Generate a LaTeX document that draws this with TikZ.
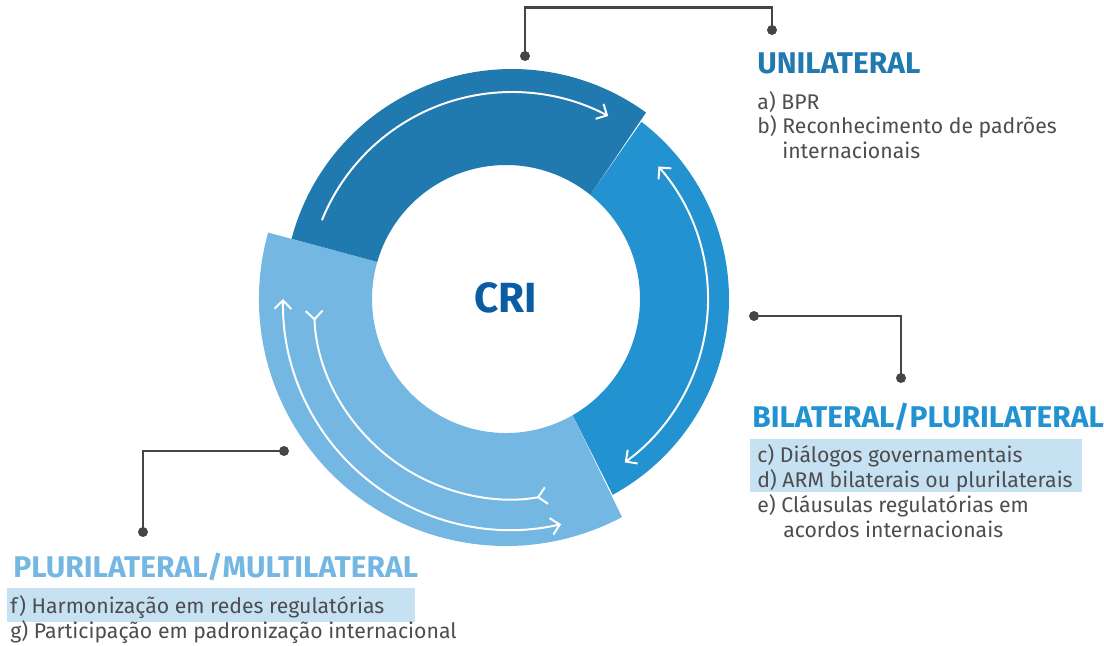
\documentclass[tikz,border=0pt]{standalone}
\usepackage{fontspec}
\setmainfont{Fira Sans}
\usetikzlibrary{arrows.meta}
\definecolor{ringdark}{HTML}{2079AF}
\definecolor{ringmid}{HTML}{2392D0}
\definecolor{ringlight}{HTML}{75B7E3}
\definecolor{txtgray}{HTML}{4D4D4F}
\definecolor{leadgray}{HTML}{444548}
\definecolor{crititle}{HTML}{0B5DA3}
\definecolor{hilite}{HTML}{C6E2F2}
\tikzset{
  flowtip/.tip={Straight Barb[length=6pt,width=12pt]},
  flow/.style={draw=white, line width=1.4pt},
  lead/.style={draw=leadgray, line width=1.8pt},
  head/.style={anchor=base west, inner sep=0pt, font=\fontsize{21.3}{25}\selectfont\bfseries},
  item/.style={anchor=base west, inner sep=0pt, text=txtgray, font=\fontsize{15.1}{18}\selectfont}
}

\begin{document}
\begin{tikzpicture}[x=0.025cm, y=-0.025cm]
      \useasboundingbox (0,0) rectangle (1104,645);
      \begin{scope}[shift={(506,299)}, y=0.025cm]
        \fill[ringmid] (-61.4:223) arc[start angle=-61.4, end angle=52.6, radius=223] -- (51:134) arc[start angle=51, end angle=-60.2, radius=134] -- cycle;
        \fill[ringlight] (164.4:247) arc[start angle=164.4, end angle=298, radius=247] -- (299.8:134) arc[start angle=299.8, end angle=163.9, radius=134] -- cycle;
        \fill[ringdark] ([shift={(6,2)}]54:228) arc[start angle=54, end angle=165.2, radius=228] -- (163.9:134) arc[start angle=163.9, end angle=51, radius=134] -- cycle;
        \draw[flow,-flowtip] ([shift={(6,2)}]158:205) arc[start angle=158, end angle=62, radius=205];
        \draw[flow,flowtip-flowtip] (41:202) arc[start angle=41, end angle=-54, radius=202];
        \draw[flow,flowtip-flowtip] ([shift={(4,-4)}]179:227) arc[start angle=179, end angle=283, radius=227];
        \draw[flow,{flowtip[reversed]}-{flowtip[reversed]}] ([shift={(4,-4)}]182:196) arc[start angle=182, end angle=281, radius=196];
      \end{scope}
      \node[font=\fontsize{30}{34}\selectfont\bfseries, text=crititle] (C) at (506,298) {CRI};

      \coordinate (Ua) at (525,56);
      \coordinate (Uk) at (650,7.5);
      \coordinate (Ub) at (772,30);
      \draw[lead] (Ua) |- (Uk) -| (Ub);
      \coordinate (Ba) at (754,316);
      \coordinate (Bb) at (901,378);
      \draw[lead] (Ba) -| (Bb);
      \coordinate (Pa) at (284,451);
      \coordinate (Pb) at (143,532);
      \draw[lead] (Pa) -| (Pb);
      \foreach \p in {Ua,Ub,Ba,Bb,Pa,Pb}
        \fill[leadgray] (\p) circle[radius=5];

      \node[head, text=ringdark] (U) at (757,73) {UNILATERAL};
      \node[item] (U1) at (757,109) {a) BPR};
      \node[item] (U2) at (757,133) {b) Reconhecimento de padrões};
      \node[item] (U3) at (782,158) {internacionais};

      \fill[hilite] (750,439) rectangle (1082,492);
      \node[head, text=ringmid] (B) at (752,427) {BILATERAL/PLURILATERAL};
      \node[item] (B1) at (757,462) {c) Diálogos governamentais};
      \node[item] (B2) at (757,487) {d) ARM bilaterais ou plurilaterais};
      \node[item] (B3) at (757,512) {e) Cláusulas regulatórias em};
      \node[item] (B4) at (783,537) {acordos internacionais};

      \fill[hilite] (7,588) rectangle (415,622);
      \node[head, text=ringlight] (P) at (13,577) {PLURILATERAL/MULTILATERAL};
      \node[item] (P1) at (10,613) {f) Harmonização em redes regulatórias};
      \node[item] (P2) at (10,638) {g) Participação em padronização internacional};
\end{tikzpicture}
\end{document}
